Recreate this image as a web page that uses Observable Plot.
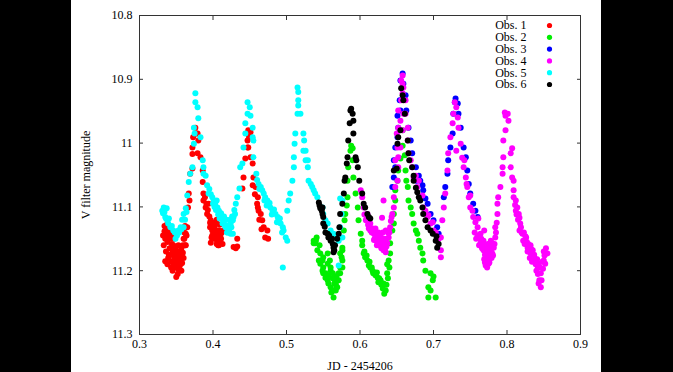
<!DOCTYPE html>
<html><head><meta charset="utf-8">
<script src="https://cdn.jsdelivr.net/npm/d3@7"></script>
<script src="https://cdn.jsdelivr.net/npm/@observablehq/plot@0.6"></script>
<style>
html,body{margin:0;padding:0;background:#000;width:673px;height:372px;overflow:hidden}
#chart{position:absolute;left:71px;top:0;width:530px;height:372px;background:#fff}
</style></head><body><div id="chart"></div>
<script>
const names = ["Obs. 1","Obs. 2","Obs. 3","Obs. 4","Obs. 5","Obs. 6"];
const colors = ["#ff0000","#00ee00","#0000ff","#ff00ff","#00ffff","#000000"];
const xTicks = [0.3,0.4,0.5,0.6,0.7,0.8,0.9];
const yTicks = [10.8,10.9,11,11.1,11.2,11.3];

const obs1 = [[0.332,11.145],[0.333,11.160],[0.334,11.138],[0.335,11.150],[0.336,11.170],[0.337,11.143],[0.338,11.155],[0.338,11.126],[0.339,11.180],[0.340,11.148],[0.341,11.165],[0.342,11.175],[0.342,11.140],[0.343,11.185],[0.344,11.158],[0.345,11.170],[0.346,11.190],[0.347,11.150],[0.347,11.178],[0.348,11.195],[0.349,11.165],[0.350,11.185],[0.350,11.210],[0.351,11.175],[0.352,11.192],[0.353,11.160],[0.354,11.185],[0.355,11.170],[0.355,11.198],[0.356,11.180],[0.357,11.165],[0.358,11.188],[0.359,11.172],[0.360,11.150],[0.360,11.180],[0.361,11.140],[0.362,11.160],[0.362,11.130],[0.334,11.130],[0.336,11.135],[0.339,11.140],[0.341,11.150],[0.343,11.145],[0.344,11.165],[0.346,11.160],[0.348,11.170],[0.349,11.180],[0.351,11.188],[0.353,11.198],[0.354,11.172],[0.356,11.190],[0.357,11.200],[0.358,11.178],[0.359,11.160],[0.361,11.150],[0.363,11.160],[0.364,11.145],[0.335,11.185],[0.338,11.190],[0.340,11.175],[0.343,11.195],[0.345,11.200],[0.352,11.205],[0.355,11.180],[0.363,11.142],[0.365,11.132],[0.366,11.101],[0.368,11.090],[0.367,11.079],[0.369,11.048],[0.372,11.040],[0.372,11.017],[0.372,11.007],[0.373,10.991],[0.376,10.976],[0.377,10.985],[0.379,10.985],[0.380,10.996],[0.379,11.016],[0.383,11.022],[0.386,11.043],[0.386,11.061],[0.387,11.079],[0.387,11.090],[0.389,11.085],[0.390,11.101],[0.391,11.095],[0.392,11.111],[0.393,11.105],[0.394,11.095],[0.395,11.115],[0.396,11.125],[0.397,11.121],[0.398,11.130],[0.399,11.137],[0.400,11.125],[0.401,11.142],[0.401,11.135],[0.403,11.126],[0.403,11.145],[0.404,11.150],[0.406,11.153],[0.406,11.140],[0.408,11.137],[0.409,11.145],[0.410,11.145],[0.410,11.155],[0.413,11.158],[0.414,11.137],[0.396,11.132],[0.398,11.148],[0.402,11.132],[0.404,11.140],[0.405,11.120],[0.405,11.158],[0.409,11.128],[0.411,11.150],[0.407,11.160],[0.412,11.140],[0.397,11.156],[0.399,11.145],[0.402,11.150],[0.408,11.160],[0.428,11.163],[0.431,11.165],[0.433,11.162],[0.433,11.150],[0.440,11.071],[0.4415,11.054],[0.444,11.024],[0.447,11.007],[0.447,10.996],[0.448,10.980],[0.451,10.983],[0.449,10.990],[0.448,11.007],[0.451,11.022],[0.454,11.032],[0.454,11.066],[0.455,11.054],[0.458,11.069],[0.461,11.085],[0.461,11.101],[0.462,11.106],[0.465,11.111],[0.467,11.121],[0.469,11.132],[0.471,11.148],[0.475,11.150],[0.474,11.137],[0.463,11.120],[0.466,11.135],[0.460,11.095],[0.457,11.080]];

const obs2 = [[0.537,11.157],[0.537,11.153],[0.539,11.157],[0.540,11.153],[0.541,11.148],[0.542,11.168],[0.544,11.184],[0.545,11.160],[0.546,11.173],[0.546,11.189],[0.549,11.184],[0.549,11.200],[0.550,11.195],[0.550,11.204],[0.550,11.179],[0.553,11.204],[0.553,11.211],[0.556,11.215],[0.556,11.189],[0.556,11.173],[0.557,11.207],[0.557,11.220],[0.559,11.184],[0.560,11.200],[0.560,11.226],[0.560,11.195],[0.561,11.234],[0.563,11.212],[0.563,11.204],[0.564,11.242],[0.564,11.231],[0.564,11.212],[0.565,11.220],[0.567,11.231],[0.567,11.220],[0.568,11.209],[0.568,11.225],[0.569,11.215],[0.569,11.226],[0.571,11.204],[0.571,11.215],[0.573,11.195],[0.573,11.204],[0.573,11.173],[0.575,11.179],[0.576,11.168],[0.576,11.195],[0.576,11.184],[0.576,11.164],[0.578,11.137],[0.579,11.121],[0.580,11.111],[0.582,11.098],[0.583,11.085],[0.583,11.059],[0.584,11.038],[0.587,11.012],[0.588,11.004],[0.590,11.008],[0.590,11.027],[0.591,11.054],[0.594,11.079],[0.597,11.101],[0.598,11.121],[0.601,11.142],[0.603,11.153],[0.603,11.160],[0.605,11.173],[0.606,11.170],[0.607,11.179],[0.609,11.176],[0.610,11.184],[0.612,11.192],[0.613,11.186],[0.614,11.195],[0.616,11.195],[0.617,11.200],[0.618,11.204],[0.620,11.203],[0.621,11.207],[0.623,11.203],[0.624,11.211],[0.625,11.218],[0.626,11.212],[0.628,11.215],[0.629,11.222],[0.631,11.228],[0.632,11.220],[0.633,11.236],[0.635,11.231],[0.636,11.222],[0.637,11.204],[0.637,11.190],[0.638,11.212],[0.639,11.184],[0.640,11.195],[0.641,11.173],[0.641,11.157],[0.644,11.137],[0.646,11.126],[0.646,11.111],[0.648,11.090],[0.648,11.074],[0.651,11.059],[0.652,11.043],[0.655,11.024],[0.658,11.004],[0.658,10.980],[0.661,11.019],[0.662,11.043],[0.663,11.059],[0.665,11.069],[0.666,11.090],[0.669,11.101],[0.671,11.111],[0.673,11.126],[0.676,11.137],[0.678,11.142],[0.680,11.153],[0.682,11.164],[0.685,11.173],[0.686,11.184],[0.689,11.200],[0.696,11.204],[0.699,11.215],[0.693,11.226],[0.696,11.231],[0.703,11.242],[0.693,11.242],[0.700,11.209]];

const obs3 = [[0.658,10.891],[0.655,10.902],[0.659,10.907],[0.654,10.933],[0.655,10.949],[0.651,10.957],[0.652,10.976],[0.651,10.991],[0.648,11.007],[0.646,11.027],[0.648,11.038],[0.646,11.054],[0.644,11.069],[0.662,10.925],[0.663,10.949],[0.666,10.976],[0.669,10.996],[0.671,11.016],[0.676,11.038],[0.680,11.051],[0.677,11.059],[0.682,11.059],[0.685,11.066],[0.686,11.074],[0.689,11.087],[0.692,11.095],[0.696,11.111],[0.700,11.121],[0.705,11.132],[0.707,11.142],[0.714,11.085],[0.716,11.069],[0.719,11.048],[0.720,11.027],[0.723,11.007],[0.726,10.985],[0.727,10.954],[0.729,10.936],[0.730,10.930],[0.733,10.938],[0.734,10.954],[0.737,10.976],[0.741,11.007],[0.744,11.022],[0.746,11.043],[0.748,11.064],[0.750,11.079],[0.754,11.095],[0.757,11.106],[0.760,11.116]];

const obs4 = [[0.601,11.074],[0.603,11.085],[0.605,11.101],[0.606,11.112],[0.608,11.121],[0.609,11.118],[0.610,11.111],[0.611,11.128],[0.612,11.121],[0.612,11.134],[0.613,11.131],[0.614,11.126],[0.614,11.137],[0.616,11.140],[0.617,11.134],[0.618,11.137],[0.619,11.142],[0.619,11.152],[0.620,11.150],[0.621,11.145],[0.621,11.134],[0.622,11.153],[0.623,11.148],[0.623,11.160],[0.624,11.142],[0.625,11.153],[0.625,11.140],[0.626,11.158],[0.627,11.160],[0.627,11.150],[0.628,11.157],[0.628,11.146],[0.629,11.165],[0.630,11.117],[0.630,11.160],[0.631,11.153],[0.631,11.140],[0.632,11.164],[0.632,11.168],[0.632,11.090],[0.633,11.150],[0.633,11.158],[0.634,11.166],[0.635,11.171],[0.635,11.137],[0.636,11.162],[0.636,11.150],[0.637,11.157],[0.638,11.140],[0.639,11.148],[0.640,11.140],[0.641,11.132],[0.642,11.122],[0.643,11.116],[0.644,11.111],[0.646,11.101],[0.646,11.085],[0.648,11.069],[0.648,11.027],[0.651,11.059],[0.651,11.007],[0.650,10.985],[0.652,11.038],[0.652,11.022],[0.652,10.976],[0.652,10.949],[0.655,11.007],[0.655,10.965],[0.656,10.933],[0.656,10.902],[0.658,10.980],[0.658,10.922],[0.658,10.907],[0.658,10.894],[0.659,10.954],[0.659,10.913],[0.662,10.933],[0.662,10.954],[0.665,10.976],[0.665,10.996],[0.666,11.016],[0.669,11.027],[0.671,11.038],[0.673,11.054],[0.676,11.051],[0.678,11.069],[0.680,11.059],[0.682,11.085],[0.685,11.082],[0.686,11.101],[0.689,11.106],[0.692,11.116],[0.693,11.113],[0.696,11.126],[0.699,11.124],[0.700,11.137],[0.703,11.140],[0.705,11.153],[0.707,11.150],[0.710,11.168],[0.710,11.179],[0.710,11.148],[0.712,11.121],[0.714,11.101],[0.716,11.079],[0.719,11.043],[0.720,11.016],[0.723,10.991],[0.726,10.969],[0.727,10.954],[0.729,10.936],[0.731,10.944],[0.731,11.012],[0.733,10.960],[0.734,10.976],[0.737,11.001],[0.739,11.023],[0.741,11.038],[0.742,11.027],[0.744,11.054],[0.745,11.064],[0.746,11.069],[0.748,11.085],[0.750,11.101],[0.750,11.082],[0.753,11.106],[0.754,11.116],[0.756,11.140],[0.757,11.124],[0.758,11.150],[0.760,11.132],[0.760,11.145],[0.761,11.118],[0.762,11.160],[0.763,11.150],[0.764,11.142],[0.764,11.157],[0.765,11.150],[0.766,11.165],[0.767,11.158],[0.768,11.153],[0.768,11.168],[0.769,11.137],[0.769,11.182],[0.770,11.187],[0.770,11.175],[0.771,11.192],[0.771,11.165],[0.772,11.171],[0.772,11.190],[0.773,11.164],[0.773,11.195],[0.774,11.180],[0.774,11.158],[0.775,11.179],[0.775,11.189],[0.776,11.187],[0.776,11.172],[0.777,11.160],[0.778,11.168],[0.778,11.153],[0.779,11.180],[0.780,11.157],[0.780,11.173],[0.781,11.176],[0.782,11.164],[0.783,11.158],[0.784,11.148],[0.784,11.132],[0.785,11.140],[0.786,11.125],[0.787,11.111],[0.787,11.095],[0.788,11.085],[0.791,11.069],[0.794,11.048],[0.794,11.038],[0.795,11.022],[0.795,10.996],[0.798,10.980],[0.798,10.957],[0.797,10.952],[0.801,10.954],[0.802,10.965],[0.805,11.016],[0.807,11.008],[0.805,11.038],[0.807,11.054],[0.809,11.059],[0.809,11.074],[0.809,11.085],[0.811,11.097],[0.812,11.090],[0.812,11.106],[0.813,11.112],[0.814,11.101],[0.815,11.120],[0.816,11.111],[0.817,11.117],[0.817,11.137],[0.818,11.126],[0.819,11.132],[0.820,11.140],[0.821,11.142],[0.822,11.153],[0.823,11.140],[0.824,11.158],[0.825,11.146],[0.826,11.148],[0.827,11.155],[0.828,11.164],[0.828,11.170],[0.829,11.158],[0.831,11.180],[0.832,11.173],[0.832,11.160],[0.833,11.166],[0.834,11.186],[0.835,11.168],[0.836,11.184],[0.837,11.175],[0.838,11.181],[0.839,11.190],[0.840,11.200],[0.841,11.182],[0.842,11.195],[0.842,11.205],[0.843,11.189],[0.843,11.220],[0.844,11.215],[0.845,11.195],[0.846,11.204],[0.846,11.226],[0.847,11.215],[0.848,11.186],[0.849,11.197],[0.850,11.184],[0.850,11.170],[0.851,11.176],[0.852,11.189],[0.853,11.165],[0.855,11.173]];

const obs5 = [[0.331,11.106],[0.332,11.110],[0.333,11.101],[0.334,11.108],[0.337,11.102],[0.335,11.116],[0.336,11.118],[0.338,11.121],[0.339,11.126],[0.340,11.118],[0.342,11.132],[0.344,11.130],[0.346,11.137],[0.348,11.140],[0.349,11.150],[0.351,11.145],[0.353,11.137],[0.354,11.140],[0.356,11.132],[0.357,11.135],[0.358,11.120],[0.360,11.132],[0.360,11.111],[0.362,11.120],[0.363,11.102],[0.364,11.108],[0.365,11.082],[0.367,11.061],[0.369,11.048],[0.372,11.038],[0.374,11.001],[0.375,10.985],[0.374,10.976],[0.376,10.922],[0.376,10.936],[0.379,10.944],[0.380,10.961],[0.383,10.991],[0.386,11.027],[0.387,11.038],[0.387,11.048],[0.390,11.051],[0.392,11.066],[0.394,11.079],[0.395,11.072],[0.397,11.080],[0.399,11.085],[0.400,11.095],[0.401,11.090],[0.402,11.100],[0.403,11.095],[0.404,11.105],[0.405,11.090],[0.406,11.101],[0.407,11.112],[0.408,11.106],[0.409,11.118],[0.410,11.111],[0.411,11.110],[0.412,11.118],[0.413,11.126],[0.414,11.121],[0.415,11.115],[0.416,11.128],[0.417,11.132],[0.418,11.120],[0.419,11.140],[0.420,11.129],[0.420,11.140],[0.421,11.132],[0.422,11.138],[0.423,11.120],[0.424,11.126],[0.425,11.132],[0.426,11.115],[0.427,11.121],[0.428,11.116],[0.429,11.105],[0.430,11.111],[0.431,11.095],[0.433,11.085],[0.424,11.142],[0.427,11.142],[0.436,11.071],[0.437,11.038],[0.440,11.032],[0.4415,11.007],[0.444,10.985],[0.444,10.969],[0.447,10.954],[0.447,10.936],[0.450,10.944],[0.451,10.957],[0.454,10.976],[0.455,10.996],[0.454,10.991],[0.455,11.022],[0.459,11.048],[0.460,11.058],[0.462,11.064],[0.463,11.072],[0.465,11.069],[0.467,11.074],[0.469,11.079],[0.470,11.090],[0.471,11.085],[0.473,11.098],[0.474,11.090],[0.475,11.095],[0.477,11.094],[0.478,11.101],[0.480,11.112],[0.481,11.106],[0.483,11.104],[0.485,11.111],[0.487,11.124],[0.488,11.116],[0.489,11.121],[0.491,11.118],[0.492,11.126],[0.494,11.140],[0.495,11.132],[0.496,11.137],[0.499,11.148],[0.501,11.153],[0.495,11.195],[0.501,11.106],[0.503,11.090],[0.505,11.079],[0.508,11.059],[0.510,11.038],[0.510,11.022],[0.511,11.001],[0.512,10.985],[0.515,10.913],[0.516,10.920],[0.516,10.933],[0.516,10.941],[0.519,10.954],[0.515,10.954],[0.523,10.985],[0.524,10.996],[0.526,11.012],[0.529,11.027],[0.523,11.012],[0.526,11.027],[0.529,11.038],[0.530,11.059],[0.533,11.064],[0.535,11.069],[0.537,11.074],[0.539,11.079],[0.542,11.085],[0.549,11.101],[0.550,11.111],[0.553,11.121],[0.556,11.126],[0.560,11.137],[0.564,11.142],[0.567,11.148],[0.571,11.153],[0.576,11.148],[0.573,11.132],[0.575,11.111],[0.576,11.090],[0.573,11.087],[0.571,11.192]];

const obs6 = [[0.544,11.093],[0.545,11.098],[0.546,11.102],[0.548,11.106],[0.549,11.101],[0.549,11.111],[0.550,11.116],[0.550,11.126],[0.552,11.131],[0.553,11.140],[0.556,11.142],[0.557,11.148],[0.558,11.145],[0.560,11.153],[0.562,11.150],[0.563,11.158],[0.564,11.164],[0.564,11.171],[0.565,11.168],[0.566,11.160],[0.569,11.150],[0.571,11.142],[0.572,11.132],[0.573,11.111],[0.576,11.095],[0.578,11.079],[0.579,11.059],[0.580,11.054],[0.582,11.032],[0.583,11.022],[0.584,10.996],[0.586,10.969],[0.587,10.949],[0.588,10.946],[0.590,10.954],[0.591,10.965],[0.591,10.985],[0.594,11.022],[0.595,11.027],[0.597,11.038],[0.599,11.059],[0.603,11.079],[0.605,11.095],[0.607,11.101],[0.610,11.111],[0.612,11.116],[0.614,11.118],[0.646,11.043],[0.650,11.040],[0.651,11.001],[0.652,10.991],[0.655,10.980],[0.656,10.914],[0.658,10.925],[0.659,10.933],[0.661,10.954],[0.665,10.996],[0.666,11.016],[0.667,11.027],[0.671,11.038],[0.673,11.051],[0.673,11.059],[0.676,11.070],[0.678,11.077],[0.680,11.085],[0.682,11.090],[0.685,11.101],[0.686,11.111],[0.689,11.121],[0.692,11.132],[0.696,11.137],[0.699,11.142],[0.703,11.153],[0.704,11.146],[0.705,11.164],[0.707,11.158]];

const series = [obs1, obs2, obs3, obs4, obs5, obs6];
const rows = series.flatMap((s, i) => s.map(([x, y]) => ({x, y, obs: names[i]})));

const legendMarks = names.flatMap((n, i) => [
  Plot.text([n], {frameAnchor: "top-right", text: d => d, dx: -54, dy: 10 + i * 11.8, textAnchor: "end", lineAnchor: "middle", fill: "#000"}),
  Plot.dot([n], {frameAnchor: "top-right", dx: -31, dy: 10 + i * 11.8, fill: d => d, r: 2.6})
]);

const chart = Plot.plot({
  width: 530, height: 372,
  marginLeft: 68, marginRight: 21, marginTop: 15, marginBottom: 38,
  style: {fontFamily: "'Liberation Serif', serif", fontSize: "12px", background: "#fff", color: "#000"},
  x: {domain: [0.3, 0.9]},
  y: {domain: [10.8, 11.3], reverse: true},
  color: {domain: names, range: colors},
  marks: [
    Plot.dot(rows, {x: "x", y: "y", fill: "obs", r: 3}),
    Plot.frame({stroke: "#333"}),
    Plot.axisX({anchor: "bottom", ticks: xTicks, tickSize: -4, tickPadding: 9, tickFormat: d => String(d), label: "JD - 2454206", labelAnchor: "center", labelArrow: "none", labelOffset: 35, stroke: "#333"}),
    Plot.axisX({anchor: "top", ticks: xTicks, tickSize: -4, tickFormat: () => "", label: null, stroke: "#333"}),
    Plot.axisY({anchor: "left", ticks: yTicks, tickSize: -4, tickPadding: 11, tickFormat: d => String(d), label: "V filter magnitude", labelAnchor: "center", labelArrow: "none", labelOffset: 58, stroke: "#333"}),
    Plot.axisY({anchor: "right", ticks: yTicks, tickSize: -4, tickFormat: () => "", label: null, stroke: "#333"}),
    ...legendMarks
  ]
});
document.getElementById("chart").appendChild(chart);
</script></body></html>
